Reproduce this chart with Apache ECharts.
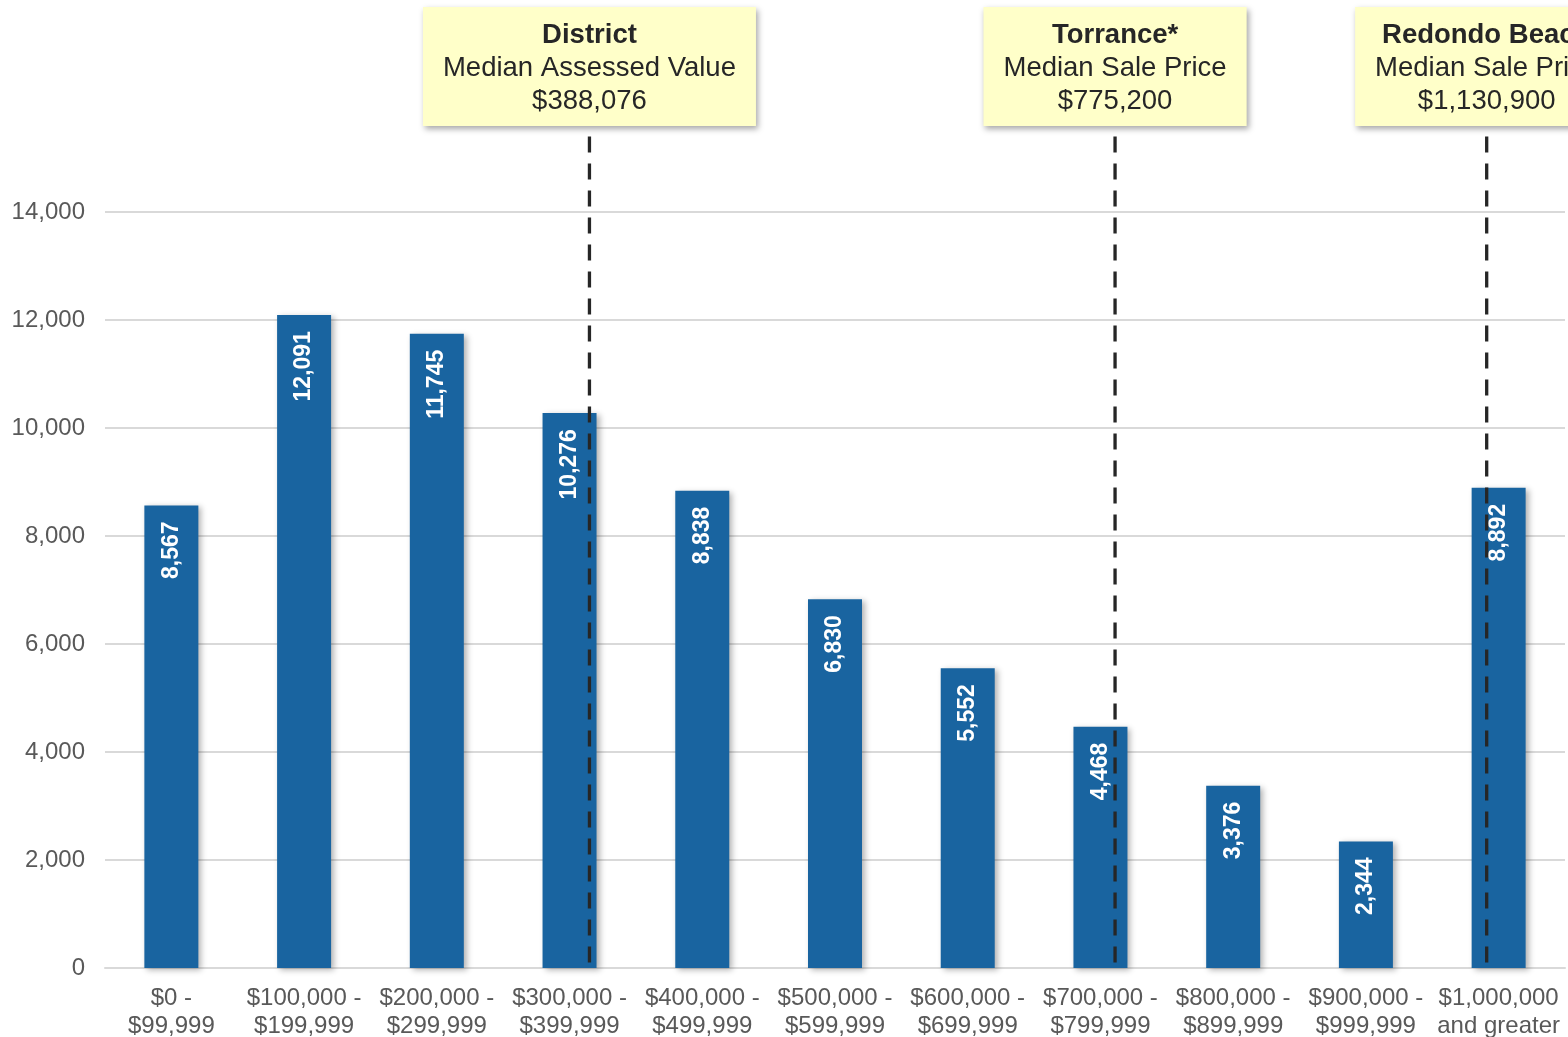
<!DOCTYPE html>
<html><head><meta charset="utf-8">
<script src="https://cdn.jsdelivr.net/npm/echarts@6/dist/echarts.min.js"></script>
<style>html,body{margin:0;padding:0;background:#fff}#c{width:1568px;height:1037px}</style>
</head><body><div id="c"></div>
<script>
const categories = ['$0 -\n$99,999','$100,000 -\n$199,999','$200,000 -\n$299,999','$300,000 -\n$399,999','$400,000 -\n$499,999','$500,000 -\n$599,999','$600,000 -\n$699,999','$700,000 -\n$799,999','$800,000 -\n$899,999','$900,000 -\n$999,999','$1,000,000\nand greater'];
const counts = [8567, 12091, 11745, 10276, 8838, 6830, 5552, 4468, 3376, 2344, 8892];
const yTicks = [0, 2000, 4000, 6000, 8000, 10000, 12000, 14000];
// median marker positions, in category units
const medianPos = [3.65, 7.61, 10.41];
const medianTop = 15400;
const annTitles = ['District', 'Torrance*', 'Redondo Beach'];
const annSubtitles = ['Median Assessed Value', 'Median Sale Price', 'Median Sale Price'];
const annValues = ['$388,076', '$775,200', '$1,130,900'];

const font = "'Liberation Sans', Arial, sans-serif";
const chart = echarts.init(document.getElementById('c'));

const medianSeries = medianPos.map((x, i) => ({
  type: 'line', xAxisIndex: 1, yAxisIndex: 0, clip: false, z: 5,
  symbol: 'circle', symbolSize: 1, showSymbol: true,
  itemStyle: {color: 'rgba(0,0,0,0)'},
  lineStyle: {color: '#262626', width: 3.3, type: [16, 11]},
  silent: true, animation: false,
  data: [
    {value: [x, medianTop], label: {
      show: true, position: 'top', distance: 10,
      backgroundColor: '#ffffc9', padding: [12, 20, 8, 20],
      shadowColor: 'rgba(0,0,0,0.35)', shadowBlur: 6, shadowOffsetX: 2, shadowOffsetY: 3,
      formatter: '{t|' + annTitles[i] + '}\n{n|' + annSubtitles[i] + '}\n{n|' + annValues[i] + '}',
      rich: {
        t: {fontFamily: font, fontSize: 27.5, fontWeight: 'bold', color: '#262626', lineHeight: 33, align: 'center'},
        n: {fontFamily: font, fontSize: 27.5, color: '#262626', lineHeight: 33, align: 'center'}
      }
    }},
    [x, 0]
  ]
}));

chart.setOption({
  animation: false,
  textStyle: {fontFamily: font},
  grid: {left: 105, right: 3, top: 212, bottom: 69, containLabel: false, outerBoundsMode: 'none'},
  xAxis: [{
    type: 'category', data: categories,
    axisLine: {lineStyle: {color: '#d9d9d9', width: 2}},
    axisTick: {show: false},
    axisLabel: {fontFamily: font, fontSize: 24, color: '#595959', lineHeight: 28, margin: 16, interval: 0}
  }, {
    type: 'value', min: 0, max: 11, show: false
  }],
  yAxis: {
    type: 'value', min: yTicks[0], max: yTicks[yTicks.length - 1], interval: 2000,
    axisLine: {show: false}, axisTick: {show: false},
    splitLine: {lineStyle: {color: '#d9d9d9', width: 2}},
    axisLabel: {fontFamily: font, fontSize: 24, color: '#595959', margin: 20,
      formatter: v => v.toLocaleString('en-US')}
  },
  series: [{
    type: 'bar', data: counts, barWidth: 54, z: 2,
    itemStyle: {color: '#1964a0', shadowColor: 'rgba(0,0,0,0.3)', shadowBlur: 6, shadowOffsetX: 3, shadowOffsetY: 2},
    label: {
      show: true, position: 'insideTop', rotate: 90, align: 'right', verticalAlign: 'middle', distance: 16,
      fontFamily: font, fontSize: 23, fontWeight: 'bold', color: '#fff',
      formatter: p => p.value.toLocaleString('en-US')
    }
  }].concat(medianSeries)
});
</script></body></html>
